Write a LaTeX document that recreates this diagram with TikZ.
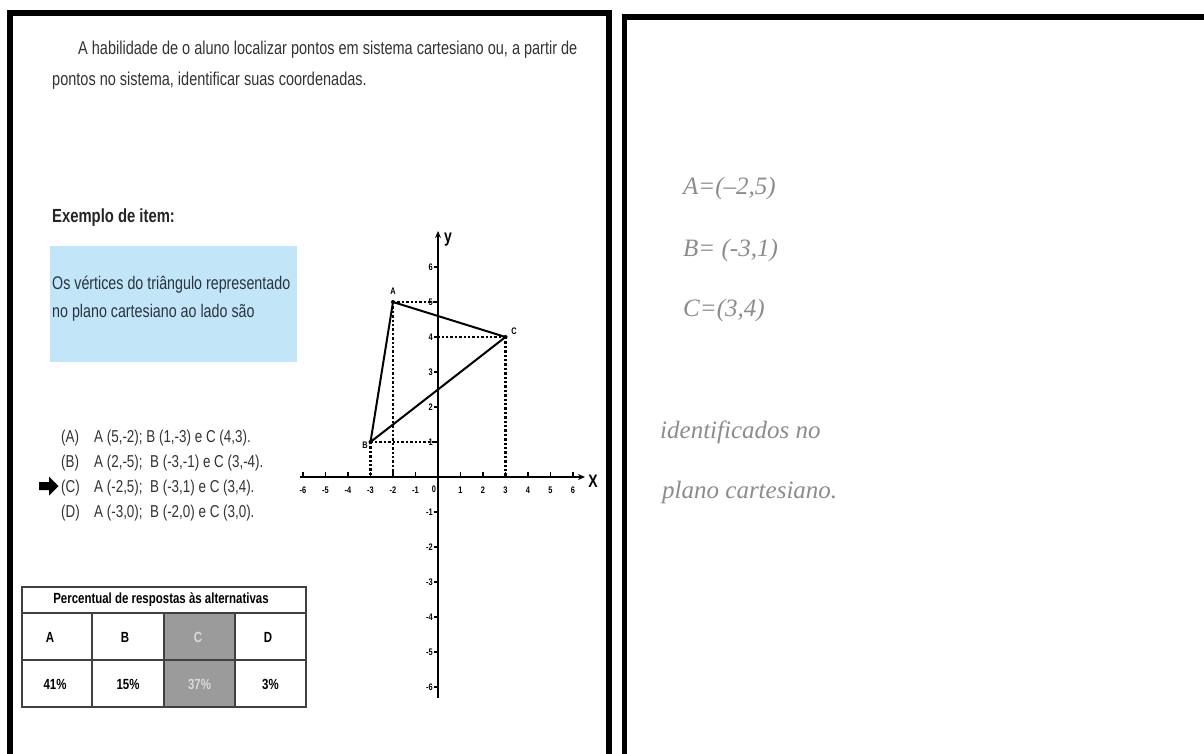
\documentclass[tikz,border=0pt]{standalone}
\usepackage{fontspec}
\newfontfamily\cond[FakeStretch=0.78]{Liberation Sans}
\newfontfamily\hand{Liberation Serif}
\usetikzlibrary{arrows.meta}
\definecolor{boxblue}{HTML}{C2E5F7}
\definecolor{txt}{HTML}{333333}
\definecolor{bluetxt}{HTML}{2A3440}
\definecolor{cellgray}{HTML}{9B9B9B}
\definecolor{handgray}{HTML}{8C8C8C}
\tikzset{
  frame/.style={line width=5.5pt},
  body/.style={font=\cond\fontsize{18.6}{21}\selectfont, text=txt, inner sep=0pt},
  opt/.style={font=\cond\fontsize{17.2}{20}\selectfont, text=txt, inner sep=0pt, anchor=base west},
  cell/.style={font=\cond\bfseries\fontsize{14.7}{17}\selectfont, text=black, inner sep=0pt},
  tick/.style={font=\cond\bfseries\fontsize{9.5}{11}\selectfont, inner sep=0pt},
  axis/.style={line width=2pt, -{Stealth[length=7pt,width=6pt]}},
  dots/.style={line width=2.4pt, dash pattern=on 2.4pt off 2pt},
  tri/.style={line width=2pt},
  handw/.style={font=\hand\itshape\fontsize{25}{28}\selectfont, text=handgray, inner sep=0pt},
}
\begin{document}
\begin{tikzpicture}[x=1pt,y=-1pt]
\useasboundingbox (0,0) rectangle (1204,753);
\fill[white] (0,0) rectangle (1204,753);
\begin{scope}
\clip (0,0) rectangle (1204,753);
\draw[frame] (10,800) -- (10,12.8) -- (609,12.8) -- (609,800);
\draw[frame] (624.5,800) -- (624.5,17) -- (1220,17);
\end{scope}

% top text
\node[body, anchor=base west] (t1) at (78,54) {A habilidade de o aluno localizar pontos em sistema cartesiano ou, a partir de};
\node[body, anchor=base west] (t2) at (52,85) {pontos no sistema, identificar suas coordenadas.};

\node[body, anchor=base west, font=\cond\bfseries\fontsize{19}{22}\selectfont, text=black!85] (ex) at (52,222) {Exemplo de item:};

% blue box
\fill[boxblue] (50,246) rectangle (297,362);
\node[body, anchor=base west, font=\cond\fontsize{18.3}{21}\selectfont, text=bluetxt] (q1) at (52,289) {Os vértices do triângulo representado};
\node[body, anchor=base west, font=\cond\fontsize{18.3}{21}\selectfont, text=bluetxt] (q2) at (52,317) {no plano cartesiano ao lado são};

% options
\node[opt] (la) at (61,442) {(A)};
\node[opt] (oa) at (94,442) {A (5,-2); B (1,-3) e C (4,3).};
\node[opt] (lb) at (61,467) {(B)};
\node[opt] (ob) at (94,467) {A (2,-5);\ \ B (-3,-1) e C (3,-4).};
\node[opt] (lc) at (61,492) {(C)};
\node[opt] (oc) at (94,492) {A (-2,5);\ \ B (-3,1) e C (3,4).};
\node[opt] (ld) at (61,517) {(D)};
\node[opt] (od) at (94,517) {A (-3,0);\ \ B (-2,0) e C (3,0).};
\fill[black] (39,482) -- (49,482) -- (49,476.5) -- (58.5,486) -- (49,495.5) -- (49,490) -- (39,490) -- cycle;

% table
\fill[cellgray] (164,613) rectangle (235,707);
\draw[line width=1.3pt, black!75] (22,587) rectangle (306,707);
\draw[line width=1.3pt, black!75] (22,613) -- (306,613) (22,660) -- (306,660);
\draw[line width=1.3pt, black!75] (92,613) -- (92,707) (164,613) -- (164,707) (235,613) -- (235,707);
\node[cell] (th) at (161,600) {Percentual de respostas às alternativas};
\node[cell] (ca) at (50,637) {A};
\node[cell] (cb) at (125,637) {B};
\node[cell, text=black!15] (cc) at (198,637) {C};
\node[cell] (cd) at (268,637) {D};
\node[cell] (pa) at (55,684) {41\%};
\node[cell] (pb) at (128,684) {15\%};
\node[cell, text=black!15] (pc) at (199.5,684) {37\%};
\node[cell] (pd) at (270.5,684) {3\%};

% graph
\coordinate (O) at (438,477);
\foreach \i in {-6,...,6} {
  \draw[line width=1.6pt] ({438+22.5*\i},477) -- ({438+22.5*\i},471.5);
}
\foreach \i in {-6,...,-1,1,2,3,4,5,6} {
  \node[tick] at ({438+22.5*\i},490) {\i};
}
\node[tick] at (434,489) {0};
\foreach \j in {-6,...,-1,1,2,3,4,5,6} {
  \draw[line width=1.6pt] (438,{477-35*\j}) -- (433.5,{477-35*\j});
  \node[tick, anchor=east] at (433,{477-35*\j}) {\j};
}
\draw[axis] (300,477) -- (585,477);
\draw[axis] (438,698) -- (438,231);
\node[font=\cond\bfseries\fontsize{18}{20}\selectfont, inner sep=0pt] (xl) at (593,481) {X};
\node[font=\cond\bfseries\fontsize{18}{20}\selectfont, inner sep=0pt] (yl) at (448,240) {y};

\coordinate (A) at (393,302);
\coordinate (B) at (370.5,442);
\coordinate (C) at (505.5,337);
\draw[dots] (A) -- (438,302);
\draw[dots] (A) -- (393,477);
\draw[dots] (C) -- (438,337);
\draw[dots] (C) -- (505.5,477);
\draw[dots] (B) -- (438,442);
\draw[dots] (B) -- (370.5,477);
\draw[tri] (A) -- (C) -- (B) -- cycle;
\fill (A) circle (2pt); \fill (B) circle (2pt); \fill (C) circle (2pt);
\node[tick] (al) at (393,291) {A};
\node[tick] (cl) at (514,331) {C};
\node[tick] (bl) at (365,445) {B};

% handwritten answer
\node[handw, anchor=west] (h1) at (683,188) {A=(–2,5)};
\node[handw, anchor=west] (h2) at (683,250) {B= (-3,1)};
\node[handw, anchor=west] (h3) at (683,310) {C=(3,4)};
\node[handw, anchor=west] (h4) at (660,432) {identificados no};
\node[handw, anchor=west] (h5) at (662,492) {plano cartesiano.};
\end{tikzpicture}
\end{document}
